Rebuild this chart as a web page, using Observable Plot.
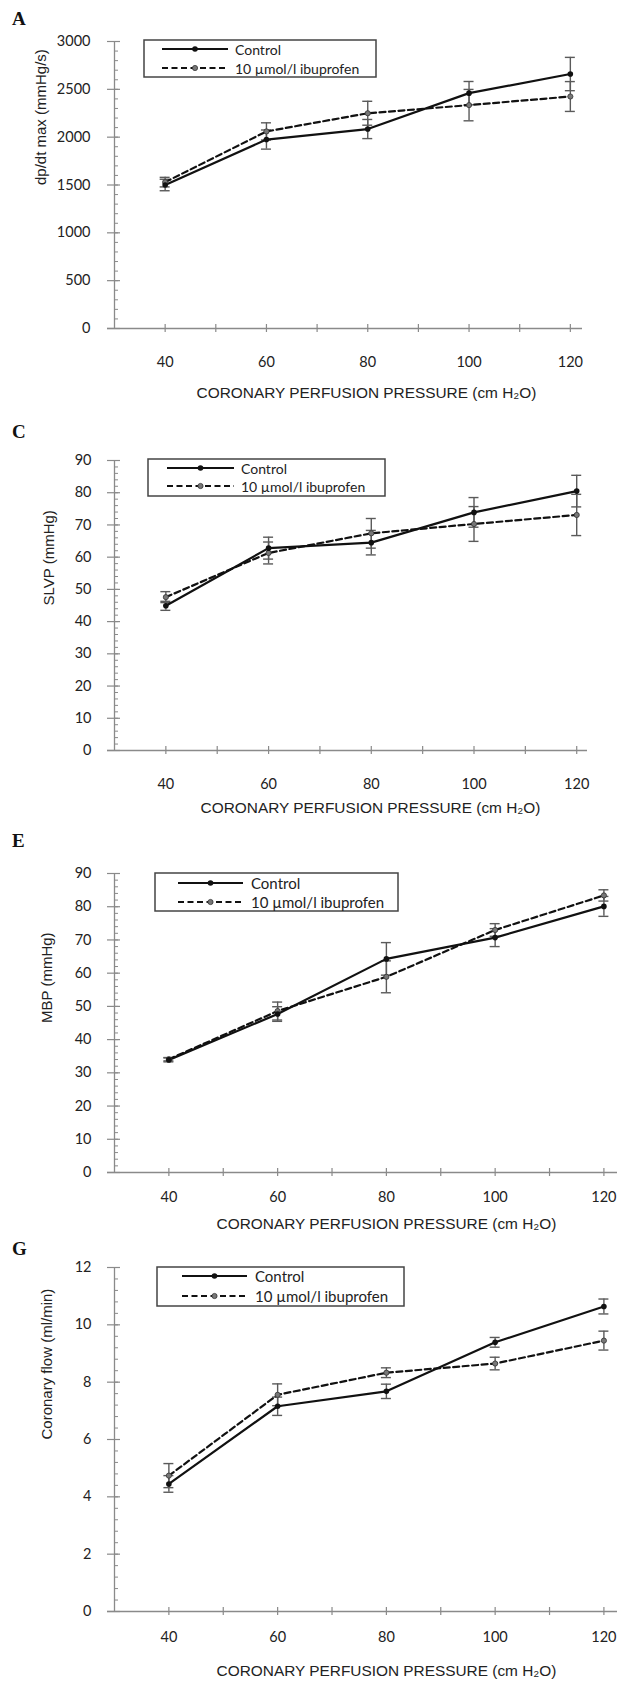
<!DOCTYPE html>
<html>
<head>
<meta charset="utf-8">
<script src="https://cdn.jsdelivr.net/npm/d3@7"></script>
<script src="https://cdn.jsdelivr.net/npm/@observablehq/plot@0.6"></script>
<style>
  html, body { margin: 0; padding: 0; background: #fff; }
  #page { position: relative; width: 617px; height: 1686px; overflow: hidden; background: #fff; }
  .panel { position: absolute; left: 0; }
  .letter { position: absolute; font-family: "Liberation Serif", "DejaVu Serif", serif; font-weight: bold; font-size: 19px; line-height: 1; color: #111; }
  .legend { position: absolute; }
</style>
</head>
<body>
<div id="page"></div>
<script>
// ---------- data ----------
const pressure = [40, 60, 80, 100, 120];
const xTickValues = [40, 50, 60, 70, 80, 90, 100, 110, 120];
const seriesNames = ["Control", "10 µmol/l ibuprofen"];
const xTitle = "CORONARY PERFUSION PRESSURE (cm H₂O)";

// Panel A: dp/dt max (mmHg/s)
const dpdtControl = [1500, 1975, 2085, 2460, 2660];
const dpdtControlErr = [60, 100, 100, 122, 174];
const dpdtIbu = [1530, 2060, 2250, 2335, 2425];
const dpdtIbuErr = [50, 90, 125, 164, 156];
const dpdtTicks = [0, 500, 1000, 1500, 2000, 2500, 3000];

// Panel C: SLVP (mmHg)
const slvpControl = [44.9, 62.8, 64.5, 73.9, 80.5];
const slvpControlErr = [1.4, 3.4, 3.8, 4.6, 4.9];
const slvpIbu = [47.6, 61.3, 67.4, 70.3, 73.1];
const slvpIbuErr = [1.7, 3.4, 4.6, 5.4, 6.4];
const slvpTicks = [0, 10, 20, 30, 40, 50, 60, 70, 80, 90];

// Panel E: MBP (mmHg)
const mbpControl = [33.9, 47.7, 64.3, 70.7, 80.1];
const mbpControlErr = [0.6, 2.2, 4.9, 2.7, 3.0];
const mbpIbu = [34.1, 48.6, 58.9, 73.0, 83.4];
const mbpIbuErr = [0.5, 2.7, 4.8, 1.9, 1.7];
const mbpTicks = [0, 10, 20, 30, 40, 50, 60, 70, 80, 90];

// Panel G: Coronary flow (ml/min)
const flowControl = [4.45, 7.16, 7.68, 9.39, 10.64];
const flowControlErr = [0.29, 0.32, 0.25, 0.17, 0.26];
const flowIbu = [4.74, 7.56, 8.33, 8.65, 9.45];
const flowIbuErr = [0.42, 0.38, 0.17, 0.22, 0.33];
const flowTicks = [0, 2, 4, 6, 8, 10, 12];

// ---------- layout ----------
const panels = [
  {letter: "A", letterTop: 9, top: 0, height: 420, mt: 41, mb: 92, ml: 114, mr: 35, xMax: 122.4,
   ticks: dpdtTicks, minorStep: 100, yLabel: "dp/dt max (mmHg/s)", yLabX: 41,
   titleDy: 69, titleX: 366, padX: 28, padY: 24,
   control: dpdtControl, controlErr: dpdtControlErr, ibu: dpdtIbu, ibuErr: dpdtIbuErr,
   legend: {x: 144, y: 40, w: 232, h: 37, l1: 162, l2: 228, tx: 235, r1: 49, r2: 68, fs: 14}},
  {letter: "C", letterTop: 422, top: 420, height: 420, mt: 40, mb: 90, ml: 114, mr: 30, xMax: 122.1,
   ticks: slvpTicks, minorStep: 2, yLabel: "SLVP (mmHg)", yLabX: 49,
   titleDy: 62, titleX: 370, padX: 28, padY: 23,
   control: slvpControl, controlErr: slvpControlErr, ibu: slvpIbu, ibuErr: slvpIbuErr,
   legend: {x: 148, y: 459, w: 237, h: 37, l1: 167, l2: 234, tx: 241, r1: 468, r2: 486, fs: 14}},
  {letter: "E", letterTop: 831, top: 840, height: 415, mt: 33, mb: 83, ml: 114, mr: 0, xMax: 122.5,
   ticks: mbpTicks, minorStep: 2, yLabel: "MBP (mmHg)", yLabX: 47,
   titleDy: 56, titleX: 386, padX: 19, padY: 23,
   control: mbpControl, controlErr: mbpControlErr, ibu: mbpIbu, ibuErr: mbpIbuErr,
   legend: {x: 155, y: 873, w: 243, h: 38, l1: 178, l2: 243, tx: 251, r1: 883, r2: 902, fs: 15}},
  {letter: "G", letterTop: 1239, top: 1255, height: 431, mt: 12, mb: 75, ml: 114, mr: 0, xMax: 122.5,
   ticks: flowTicks, minorStep: 0.4, yLabel: "Coronary flow (ml/min)", yLabX: 47,
   titleDy: 64, titleX: 386, padX: 20, padY: 23,
   control: flowControl, controlErr: flowControlErr, ibu: flowIbu, ibuErr: flowIbuErr,
   legend: {x: 157, y: 1267, w: 247, h: 39, l1: 182, l2: 247, tx: 255, r1: 1276, r2: 1296, fs: 15}}
];

const W = 617;
const axisColor = "#8a8a8a";
const errColor = "#5a5a5a";
const tickFont = "Lato, sans-serif";
const page = document.getElementById("page");

function rows(vals, errs, name) {
  return pressure.map((p, i) => ({x: p, y: vals[i], lo: vals[i] - errs[i], hi: vals[i] + errs[i], s: name}));
}

for (const c of panels) {
  const fw = W - c.ml - c.mr;
  const fh = c.height - c.mt - c.mb;
  const ctrl = rows(c.control, c.controlErr, seriesNames[0]);
  const ibu = rows(c.ibu, c.ibuErr, seriesNames[1]);
  const yMax = c.ticks[c.ticks.length - 1];
  const minor = d3.range(0, Math.round(yMax / c.minorStep) + 1).map(k => +(k * c.minorStep).toFixed(4));
  const frameCenter = c.ml + fw / 2;

  const chart = Plot.plot({
    width: W, height: c.height,
    marginTop: c.mt, marginBottom: c.mb, marginLeft: c.ml, marginRight: c.mr,
    style: {fontFamily: tickFont, fontSize: "14px", color: "#222", background: "transparent"},
    x: {domain: [30, c.xMax], axis: null},
    y: {domain: [0, yMax], axis: null},
    marks: [
      // axis lines
      Plot.ruleX([30], {stroke: axisColor, strokeWidth: 1.3}),
      Plot.ruleY([0], {stroke: axisColor, strokeWidth: 1.3, insetLeft: -7}),
      // y ticks (major crossing, minor inside)
      Plot.tickY(c.ticks, {y: d => d, stroke: axisColor, strokeWidth: 1.2, insetLeft: -7, insetRight: fw - 6}),
      Plot.tickY(minor, {y: d => d, stroke: axisColor, strokeWidth: 1, insetRight: fw - 4}),
      // x ticks (crossing)
      Plot.tickX(xTickValues, {x: d => d, stroke: axisColor, strokeWidth: 1.2, insetTop: fh - 4, insetBottom: -4}),
      // tick labels
      Plot.axisY({ticks: c.ticks, tickSize: 0, tickPadding: c.padY, label: null, tickFormat: d3.format("d"),
        fontSize: 14.5, fontFamily: tickFont, fill: "#222"}),
      Plot.axisX({ticks: pressure, tickSize: 0, tickPadding: c.padX, label: null, tickFormat: d3.format("d"),
        fontSize: 14.5, fontFamily: tickFont, fill: "#222"}),
      // axis titles
      Plot.text([c.yLabel], {text: d => d, frameAnchor: "left", rotate: -90, dx: c.yLabX - c.ml,
        fontFamily: "Liberation Sans, Arial, sans-serif", fontSize: 15, fill: "#222"}),
      Plot.text([xTitle], {text: d => d, frameAnchor: "bottom", dy: c.titleDy, dx: c.titleX - frameCenter,
        fontFamily: "Liberation Sans, Arial, sans-serif", fontSize: 15.4, fill: "#222"}),
      // error bars
      Plot.ruleX([...ctrl, ...ibu], {x: "x", y1: "lo", y2: "hi", stroke: errColor, strokeWidth: 1.4}),
      Plot.ruleY([...ctrl, ...ibu], {y: "hi", x1: "x", x2: "x", insetLeft: -5, insetRight: -5, stroke: errColor, strokeWidth: 1.4}),
      Plot.ruleY([...ctrl, ...ibu], {y: "lo", x1: "x", x2: "x", insetLeft: -5, insetRight: -5, stroke: errColor, strokeWidth: 1.4}),
      // lines
      Plot.line(ibu, {x: "x", y: "y", stroke: "#111", strokeWidth: 2.2, strokeDasharray: "6,3.5"}),
      Plot.line(ctrl, {x: "x", y: "y", stroke: "#111", strokeWidth: 2.2}),
      Plot.dot(ibu, {x: "x", y: "y", r: 2.6, fill: "#777", stroke: "#333", strokeWidth: 0.8}),
      Plot.dot(ctrl, {x: "x", y: "y", r: 2.8, fill: "#111"})
    ]
  });

  const wrap = document.createElement("div");
  wrap.className = "panel";
  wrap.style.top = c.top + "px";
  wrap.appendChild(chart);
  page.appendChild(wrap);

  // panel letter
  const L = document.createElement("div");
  L.className = "letter";
  L.style.left = "12px";
  L.style.top = c.letterTop + "px";
  L.textContent = c.letter;
  page.appendChild(L);

  // legend (inside the plot area, as in the original figure)
  const lg = c.legend;
  const ns = "http://www.w3.org/2000/svg";
  const svg = document.createElementNS(ns, "svg");
  svg.setAttribute("class", "legend");
  svg.setAttribute("width", lg.w + 2);
  svg.setAttribute("height", lg.h + 2);
  svg.style.left = (lg.x - 1) + "px";
  svg.style.top = (lg.y - 1) + "px";
  const mk = (tag, attrs, txt) => {
    const e = document.createElementNS(ns, tag);
    for (const k in attrs) e.setAttribute(k, attrs[k]);
    if (txt) e.textContent = txt;
    svg.appendChild(e);
    return e;
  };
  mk("rect", {x: 1, y: 1, width: lg.w, height: lg.h, fill: "#fff", stroke: "#444", "stroke-width": 1.5});
  const ox = lg.x - 1, oy = lg.y - 1;
  const mid = (lg.l1 + lg.l2) / 2 - ox;
  mk("line", {x1: lg.l1 - ox, x2: lg.l2 - ox, y1: lg.r1 - oy, y2: lg.r1 - oy, stroke: "#111", "stroke-width": 2.2});
  mk("circle", {cx: mid, cy: lg.r1 - oy, r: 2.8, fill: "#111"});
  mk("line", {x1: lg.l1 - ox, x2: lg.l2 - ox, y1: lg.r2 - oy, y2: lg.r2 - oy, stroke: "#111", "stroke-width": 2.2, "stroke-dasharray": "6,3.5"});
  mk("circle", {cx: mid, cy: lg.r2 - oy, r: 2.6, fill: "#777", stroke: "#333", "stroke-width": 0.8});
  mk("text", {x: lg.tx - ox, y: lg.r1 - oy, "dominant-baseline": "central", "font-family": "Lato, sans-serif", "font-size": lg.fs, fill: "#222"}, seriesNames[0]);
  mk("text", {x: lg.tx - ox, y: lg.r2 - oy, "dominant-baseline": "central", "font-family": "Lato, sans-serif", "font-size": lg.fs, fill: "#222"}, seriesNames[1]);
  page.appendChild(svg);
}
</script>
</body>
</html>
